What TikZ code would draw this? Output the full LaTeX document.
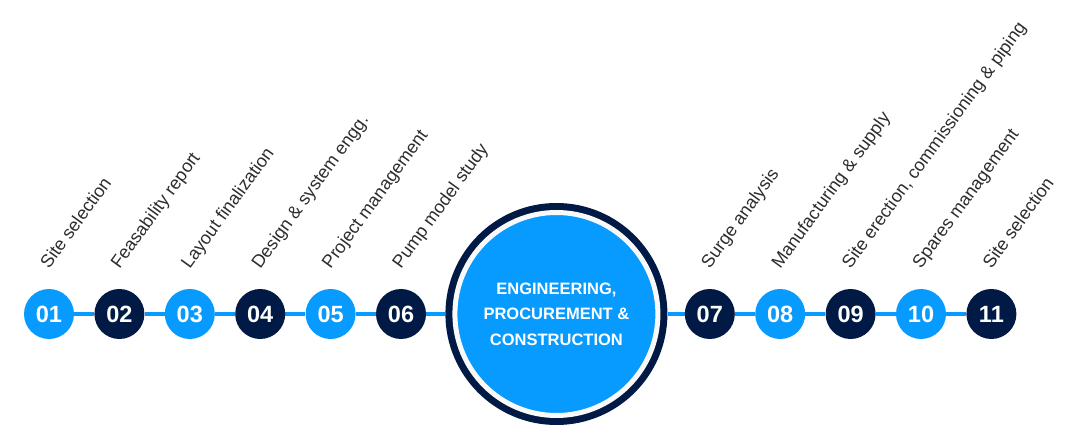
\documentclass[tikz,border=0pt]{standalone}
\usepackage{fontspec}
\setmainfont{Liberation Sans}
\usetikzlibrary{positioning,backgrounds}
\definecolor{sky}{RGB}{8,155,255}
\definecolor{navy}{RGB}{0,26,69}
\definecolor{ink}{RGB}{45,45,45}
\tikzset{
  pont/.style={circle,inner sep=0pt,minimum size=50pt,text=white,
    font=\bfseries\fontsize{23.5}{25}\selectfont},
  vil/.style={pont,fill=sky},
  sot/.style={pont,fill=navy},
  cim/.style={rotate=54,anchor=base west,inner sep=0pt,text=ink,
    font=\fontsize{18}{20}\selectfont},
  sav/.style={draw=sky,line width=4pt},
}
\begin{document}
\begin{tikzpicture}[x=1pt,y=1pt,node distance=20pt]
  \useasboundingbox (0,0) rectangle (1081,447);
  \node (n01) [vil] at (49,133) {01};
  \node (n02) [sot, right=of n01] {02};
  \node (n03) [vil, right=of n02] {03};
  \node (n04) [sot, right=of n03] {04};
  \node (n05) [vil, right=of n04] {05};
  \node (n06) [sot, right=of n05] {06};
  \node (hub) [circle,fill=navy,minimum size=222pt,inner sep=0pt,
    right=19pt of n06] {};
  \node (mag) [circle,fill=sky,draw=white!95!gray,line width=5pt,
    minimum size=203pt,inner sep=0pt,align=center,text=white,
    font=\bfseries\fontsize{16.5}{25.5}\selectfont] at (hub)
    {ENGINEERING,\\PROCUREMENT \&\\CONSTRUCTION};
  \node (n07) [sot, right=17pt of hub] {07};
  \node (n08) [vil, right=of n07] {08};
  \node (n09) [sot, right=of n08] {09};
  \node (n10) [vil, right=of n09] {10};
  \node (n11) [sot, right=of n10] {11};
  % feliratok
  \node (t01) [cim] at ([shift={(0,19)}]n01.north) {Site selection};
  \node (t02) [cim] at ([shift={(0,19)}]n02.north) {Feasability report};
  \node (t03) [cim] at ([shift={(0,19)}]n03.north) {Layout finalization};
  \node (t04) [cim] at ([shift={(0,19)}]n04.north) {Design \& system engg.};
  \node (t05) [cim] at ([shift={(0,19)}]n05.north) {Project management};
  \node (t06) [cim] at ([shift={(0,19)}]n06.north) {Pump model study};
  \node (t07) [cim] at ([shift={(0,19)}]n07.north) {Surge analysis};
  \node (t08) [cim] at ([shift={(0,19)}]n08.north) {Manufacturing \& supply};
  \node (t09) [cim] at ([shift={(0,19)}]n09.north) {Site erection, commissioning \& piping};
  \node (t10) [cim] at ([shift={(0,19)}]n10.north) {Spares management};
  \node (t11) [cim] at ([shift={(0,19)}]n11.north) {Site selection};
  \begin{scope}[on background layer]
    \draw[sav] (n01) -- (n02) -- (n03) -- (n04) -- (n05) -- (n06) -- (hub);
    \draw[sav] (hub) -- (n07) -- (n08) -- (n09) -- (n10) -- (n11);
  \end{scope}
\end{tikzpicture}
\end{document}
